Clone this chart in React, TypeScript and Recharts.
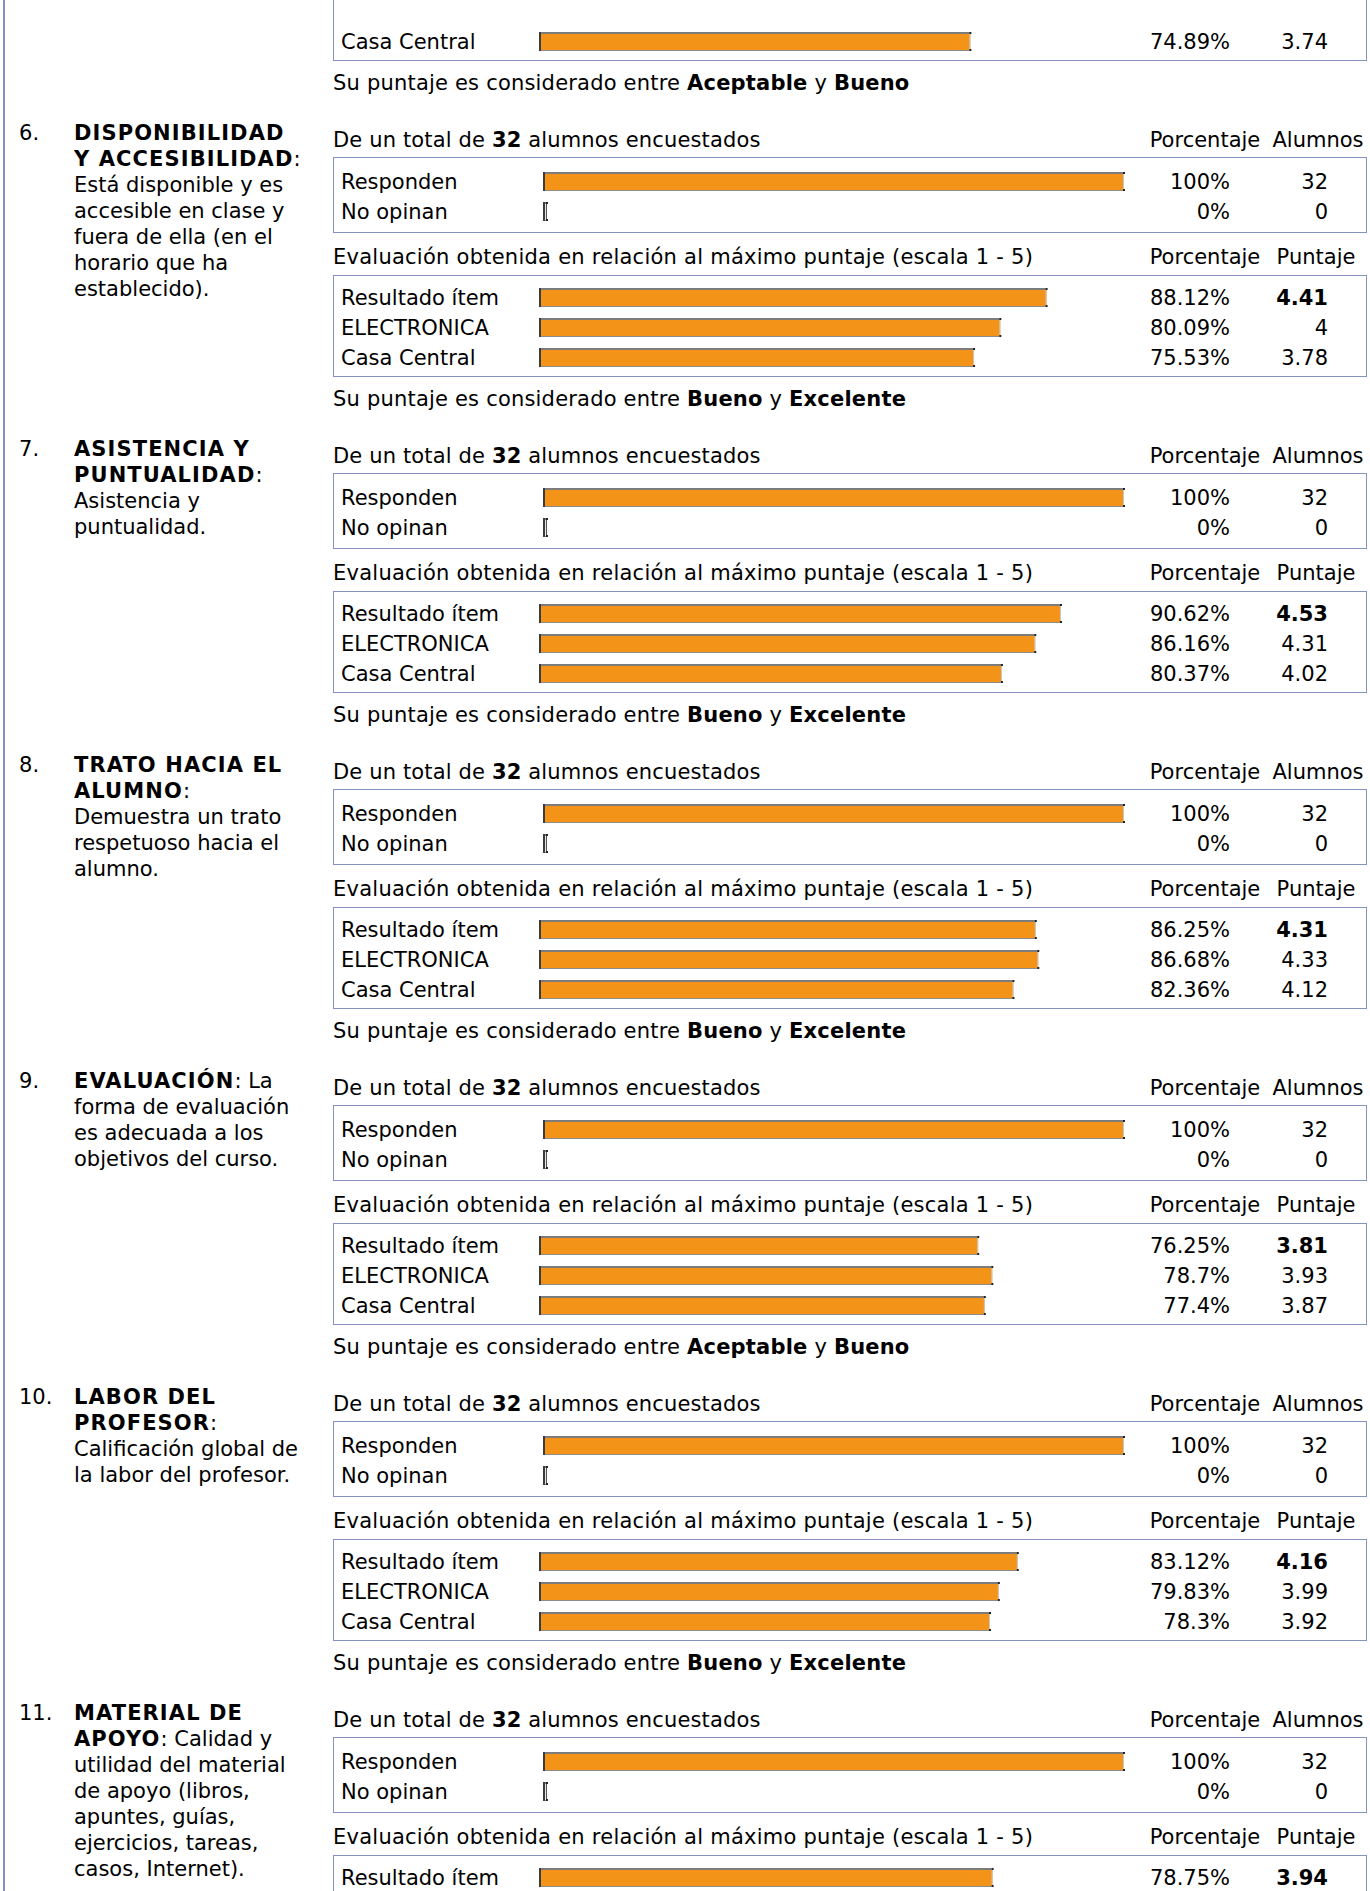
import { BarChart, Bar, XAxis, YAxis } from 'recharts'

// Survey results
const FONT = "'DejaVu Sans', Verdana, sans-serif"
const ORANGE = '#F39419'
const FRAME = '#8592BD'

const totalAlumnos = 32
const respLabels = ['Responden', 'No opinan']
const respPct = [100, 0]
const respCount = [32, 0]

const evalLabels = ['Resultado ítem', 'ELECTRONICA', 'Casa Central']

// item 5 is cut off at the top, only its last row shows
const pct5 = [74.89]
const score5 = [3.74]
const pct6 = [88.12, 80.09, 75.53]
const score6 = [4.41, 4, 3.78]
const pct7 = [90.62, 86.16, 80.37]
const score7 = [4.53, 4.31, 4.02]
const pct8 = [86.25, 86.68, 82.36]
const score8 = [4.31, 4.33, 4.12]
const pct9 = [76.25, 78.7, 77.4]
const score9 = [3.81, 3.93, 3.87]
const pct10 = [83.12, 79.83, 78.3]
const score10 = [4.16, 3.99, 3.92]
// item 11 is cut off at the bottom
const pct11 = [78.75]
const score11 = [3.94]

const itemNumbers = [6, 7, 8, 9, 10, 11]
const itemText = [
  ['*DISPONIBILIDAD*', '*Y ACCESIBILIDAD*:', 'Está disponible y es', 'accesible en clase y', 'fuera de ella (en el', 'horario que ha', 'establecido).'],
  ['*ASISTENCIA Y*', '*PUNTUALIDAD*:', 'Asistencia y', 'puntualidad.'],
  ['*TRATO HACIA EL*', '*ALUMNO*:', 'Demuestra un trato', 'respetuoso hacia el', 'alumno.'],
  ['*EVALUACIÓN*: La', 'forma de evaluación', 'es adecuada a los', 'objetivos del curso.'],
  ['*LABOR DEL*', '*PROFESOR*:', 'Calificación global de', 'la labor del profesor.'],
  ['*MATERIAL DE*', '*APOYO*: Calidad y', 'utilidad del material', 'de apoyo (libros,', 'apuntes, guías,', 'ejercicios, tareas,', 'casos, Internet).'],
]
// verdict lines for items 5..10 (item 11's is below the page)
const verdicts = [
  ['Aceptable', 'Bueno'],
  ['Bueno', 'Excelente'],
  ['Bueno', 'Excelente'],
  ['Bueno', 'Excelente'],
  ['Aceptable', 'Bueno'],
  ['Bueno', 'Excelente'],
]

type Row = { name: string; pct: number; val: number }

const makeRows = (names: string[], pct: number[], val: number[]): Row[] =>
  names.map((name, i) => ({ name, pct: pct[i], val: val[i] }))

const respRows = makeRows(respLabels, respPct, respCount)
const evalRows = [
  makeRows(evalLabels, pct6, score6),
  makeRows(evalLabels, pct7, score7),
  makeRows(evalLabels, pct8, score8),
  makeRows(evalLabels, pct9, score9),
  makeRows(evalLabels, pct10, score10),
  makeRows(evalLabels.slice(0, 1), pct11, score11),
]
const topRows = makeRows(evalLabels.slice(2), pct5, score5)

const BOX_LEFT = 333
const BOX_W = 1034
const FIRST = -176
const STEP = 316

const BarShape = (props: any) => {
  const { x, y, height } = props
  let w = props.width || 0
  const empty = w < 4
  if (empty) w = 4
  return (
    <g>
      <rect x={x} y={y} width={w} height={height} fill={empty ? '#e6e6e6' : ORANGE} />
      <line x1={x} y1={y + 1} x2={x + w} y2={y + 1} stroke="#7c7c7c" strokeWidth={2} />
      <line x1={x} y1={y + height - 0.5} x2={x + w} y2={y + height - 0.5} stroke="#8c8c8c" strokeWidth={1} />
      <line x1={x + 1} y1={y} x2={x + 1} y2={y + height} stroke="#3c3c3c" strokeWidth={2} />
      <line x1={x + w - 0.5} y1={y} x2={x + w - 0.5} y2={y + height} stroke={empty ? '#555' : '#c8c8c8'} strokeWidth={1} />
      <rect x={x + w - 1} y={y} width={2} height={2} fill="#222" />
      <rect x={x + w - 1} y={y + height - 2} width={2} height={2} fill="#222" />
    </g>
  )
}

const NameTick = (props: any) => (
  <text x={7} y={props.y} dy="0.36em" fontFamily={FONT} fontSize={21} fill="#000">
    {props.payload.value}
  </text>
)

const ValueTick = (props: any) => {
  const row = props.rows.find((r: Row) => r.name === props.payload.value)
  if (!row) return null
  const bold = props.boldFirst && row.name === 'Resultado ítem'
  return (
    <g fontFamily={FONT} fontSize={21} fill="#000">
      <text x={896} y={props.y} dy="0.36em" textAnchor="end">{row.pct + '%'}</text>
      <text x={994} y={props.y} dy="0.36em" textAnchor="end" fontWeight={bold ? 'bold' : 'normal'}>
        {String(row.val)}
      </text>
    </g>
  )
}

const BoxChart = ({ rows, top, boxH, padTop, barLeft, barSpan, boldFirst }: any) => {
  const W = BOX_W - 2
  const chartH = boxH - 2
  const padBottom = chartH - padTop - rows.length * 30
  return (
    <div
      style={{
        position: 'absolute',
        left: BOX_LEFT,
        top,
        width: BOX_W,
        height: boxH,
        boxSizing: 'border-box',
        border: `1px solid ${FRAME}`,
      }}
    >
      <BarChart
        layout="vertical"
        width={W}
        height={chartH}
        data={rows}
        margin={{ top: padTop, bottom: padBottom, left: 0, right: 0 }}
      >
        <XAxis type="number" domain={[0, 100]} hide />
        <YAxis
          yAxisId="l"
          type="category"
          dataKey="name"
          width={barLeft}
          axisLine={false}
          tickLine={false}
          interval={0}
          tick={<NameTick />}
        />
        <YAxis
          yAxisId="r"
          orientation="right"
          type="category"
          dataKey="name"
          width={W - barLeft - barSpan}
          axisLine={false}
          tickLine={false}
          interval={0}
          tick={<ValueTick rows={rows} boldFirst={boldFirst} />}
        />
        <Bar yAxisId="l" dataKey="pct" barSize={19} shape={<BarShape />} isAnimationActive={false} />
      </BarChart>
    </div>
  )
}

const textLine = (s: string) =>
  s.split('*').map((part, i) =>
    i % 2 === 1 ? (
      <b key={i} style={{ letterSpacing: '1.1px' }}>{part}</b>
    ) : (
      <span key={i}>{part}</span>
    )
  )

const at = (left: number, top: number, extra: any = {}) => ({
  position: 'absolute' as const,
  left,
  top,
  whiteSpace: 'nowrap' as const,
  ...extra,
})

const Verdict = ({ top, pair }: { top: number; pair: string[] }) => (
  <div style={at(BOX_LEFT, top, { height: 30, lineHeight: '30px', letterSpacing: '0.2px' })}>
    Su puntaje es considerado entre <b>{pair[0]}</b> y <b>{pair[1]}</b>
  </div>
)

const Section = ({ k }: { k: number }) => {
  const S = FIRST + STEP * (k + 1)
  const rows = evalRows[k]
  const last = k === itemNumbers.length - 1
  return (
    <>
      <div style={at(19, S - 20, { lineHeight: '26px' })}>{itemNumbers[k]}.</div>
      <div style={at(74, S - 20, { lineHeight: '26px' })}>
        {itemText[k].map((l, i) => (
          <div key={i}>{textLine(l)}</div>
        ))}
      </div>

      <div style={at(BOX_LEFT, S - 15, { lineHeight: '30px', letterSpacing: '0.15px' })}>
        De un total de <b>{totalAlumnos}</b> alumnos encuestados
      </div>
      <div style={at(1145, S - 15, { lineHeight: '30px', width: 120, textAlign: 'center' })}>Porcentaje</div>
      <div style={at(1258, S - 15, { lineHeight: '30px', width: 120, textAlign: 'center' })}>Alumnos</div>
      <BoxChart rows={respRows} top={S + 17} boxH={76} padTop={8} barLeft={209} barSpan={581} boldFirst={false} />

      <div style={at(BOX_LEFT, S + 102, { lineHeight: '30px', letterSpacing: '0.25px' })}>
        Evaluación obtenida en relación al máximo puntaje (escala 1 - 5)
      </div>
      <div style={at(1145, S + 102, { lineHeight: '30px', width: 120, textAlign: 'center' })}>Porcentaje</div>
      <div style={at(1256, S + 102, { lineHeight: '30px', width: 120, textAlign: 'center' })}>Puntaje</div>
      <BoxChart rows={rows} top={S + 135} boxH={102} padTop={6} barLeft={205} barSpan={576} boldFirst />

      {!last && <Verdict top={S + 244} pair={verdicts[k + 1]} />}
    </>
  )
}

export default function App() {
  return (
    <div
      style={{
        position: 'absolute',
        left: 0,
        top: 0,
        width: 1370,
        height: 1891,
        overflow: 'hidden',
        background: '#fff',
        fontFamily: FONT,
        fontSize: 21,
        color: '#000',
      }}
    >
      <div style={{ position: 'absolute', left: 3, top: 0, width: 2, height: 1891, background: FRAME }} />

      {/* tail of item 5 */}
      <BoxChart rows={topRows} top={FIRST + 135} boxH={102} padTop={66} barLeft={205} barSpan={576} boldFirst />
      <Verdict top={FIRST + 244} pair={verdicts[0]} />

      {itemNumbers.map((_, k) => (
        <Section key={k} k={k} />
      ))}
    </div>
  )
}
